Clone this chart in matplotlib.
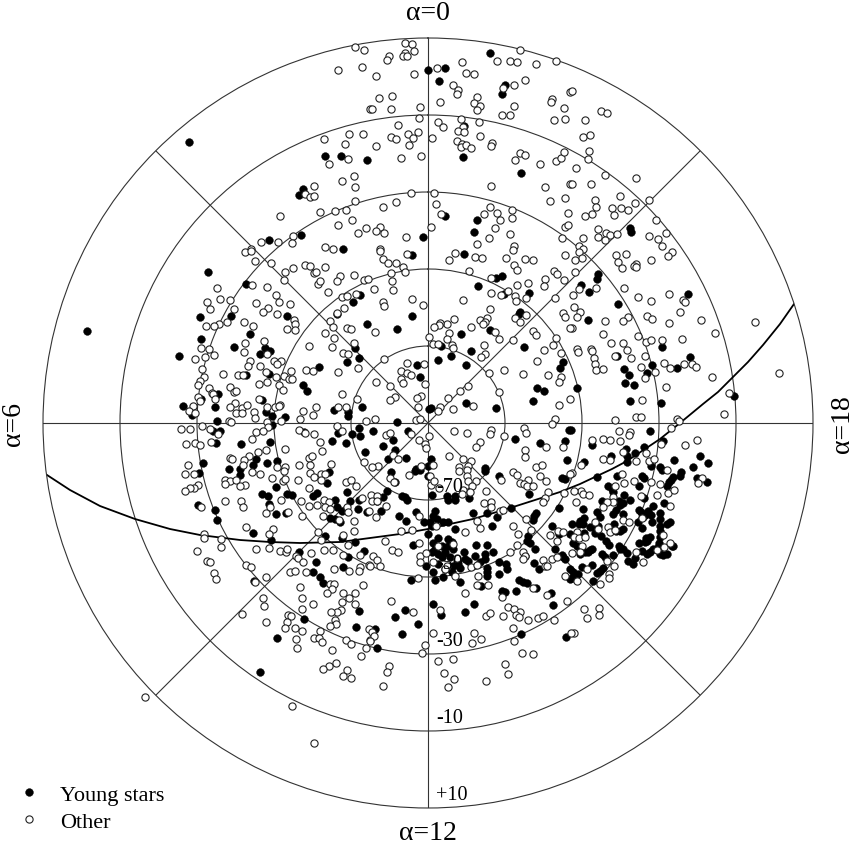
import numpy as np
import matplotlib
matplotlib.use("Agg")
import matplotlib.pyplot as plt
from matplotlib.lines import Line2D
from matplotlib.transforms import ScaledTranslation

plt.rcParams['font.family'] = ['Liberation Serif', 'DejaVu Serif']

# Star positions, as (right, up) offsets from the pole.
# 3.85 map units correspond to one degree of polar distance.
UNITS_PER_DEG = 3.85

young_stars = [
(-239,281),(-103,267),(-87,267),(-61,263),(-125,234),(-129,228),(-159,183),(-127,188),(-85,174),
(0,353),(17,355),(11,342),(62,370),(77,338),(74,329),(36,297),(35,266),(93,250),(17,207),(49,203),(46,191),(-5,186),
(202,195),(203,191),(170,149),(169,144),(153,138),(161,131),(190,119),(260,129),(160,103),(234,76),
(-220,151),(-182,139),(-228,106),(-197,107),(-141,107),(-178,89),(-227,84),(-194,76),(-249,67),(-163,75),(-158,72),(-168,69),
(-75,121),(-68,128),(-61,99),(-91,109),(-73,75),(-69,65),(-81,61),(-109,56),(-159,49),(-182,48),(-125,38),(-121,32),(-210,29),
(-166,23),(-227,24),(-245,17),(-213,16),(-236,8),(-162,11),(-156,7),(-143,6),(-211,2),(-94,13),(-80,11),(-80,7),(-66,16),
(-156,-2),(-69,-5),(-208,-8),(-215,-8),(-212,-20),(-124,-9),(-90,-10),(-76,-11),(-68,-13),(-96,-18),(-82,-20),(-63,-29),
(-158,-19),(-187,-21),(-172,-36),(-175,-42),(-161,-40),(-151,-38),(-225,-40),(-199,-46),(-188,-46),
(-16,168),(36,169),(74,147),(68,145),(50,137),(101,130),(76,129),(92,111),(91,109),(-16,107),(-31,94),(62,93),(33,89),(96,76),
(43,72),(13,77),(10,63),(23,67),(38,58),(-11,58),(-8,46),(135,61),(132,55),(109,35),(116,32),(105,22),(38,20),(68,15),(1,14),(3,15),
(-31,1),(-55,-8),(-20,-8),(-35,-17),(-45,-23),(-33,-27),(-40,-36),(-22,-35),(3,-36),(87,-16),(112,-20),(137,-18),(139,-37),(141,-7),
(57,-45),(0,-43),(-12,-46),
(262,66),(189,67),(224,58),(249,55),(196,54),(201,48),(219,50),(197,40),(206,38),(149,35),(306,27),(202,22),(233,20),(143,-7),(222,-8),
(235,-18),(164,-22),(216,-24),(198,-26),(207,-30),(199,-33),(183,-33),(199,-39),(156,-39),(272,-33),(246,-37),(280,-40),(265,-44),
(223,-43),(232,-44),(234,-47),(253,-49),(252,-53),(245,-54),(243,-57),(241,-59),(239,-63),(269,-55),(279,-59),(169,-54),(189,-53),
(214,-53),(216,-55),(211,-63),(180,-63),(184,-66),(185,-69),
(196,-72),(191,-78),(202,-77),(195,-80),(192,-82),(216,-75),(236,-80),(174,-78),(169,-89),(155,-86),(188,-87),(185,-91),(211,-87),
(220,-88),(223,-92),(232,-90),(232,-96),(242,-99),(195,-91),(215,-94),(225,-83),(156,-95),(152,-98),(172,-94),(144,-101),(151,-101),
(155,-101),(224,-99),(213,-89),(217,-92),(210,-99),(214,-105),(232,-103),(239,-101),(232,-108),(162,-104),(165,-104),(170,-103),
(186,-101),(195,-106),(192,-108),(188,-108),(167,-110),(173,-113),(178,-118),(181,-122),(156,-110),(142,-111),(211,-120),(218,-115),
(222,-114),(219,-118),(217,-119),(232,-114),(231,-120),(230,-124),(225,-126),(232,-131),(239,-131),(235,-132),(245,-123),(244,-123),
(191,-123),(192,-126),(199,-130),(200,-138),(207,-135),(205,-141),(219,-131),(214,-128),(222,-129),(195,-126),(185,-132),(174,-131),
(177,-134),(164,-126),(162,-127),(160,-129),(157,-129),(145,-120),(149,-123),(152,-131),(164,-142),(154,-144),(175,-145),(172,-148),
(169,-150),(165,-158),(142,-146),(145,-149),(150,-151),(144,-155),
(-229,-50),(-188,-52),(-152,-64),(-166,-71),(-160,-73),(-141,-71),(-136,-72),(-101,-60),(-99,-49),(-81,-69),(-115,-73),(-111,-70),
(-93,-77),(-78,-78),(-69,-77),(-230,-82),(-159,-81),(-213,-87),(-211,-97),(-152,-91),(-142,-90),(-91,-84),(-86,-88),(-70,-86),(-61,-89),
(-98,-95),(-93,-96),(-88,-99),(-175,-110),(-157,-117),(-129,-129),(-103,-113),(-86,-115),(-73,-119),(-64,-128),(-80,-134),(-112,-139),
(-85,-144),(-115,-149),(-108,-154),(-105,-160),(-69,-188),(-124,-196),(-72,-204),(-151,-215),(-168,-249),(-174,-158),
(-37,-49),(-33,-59),(-41,-68),(-45,-74),(-51,-78),(-47,-88),(-26,-73),(-23,-74),(-21,-77),(4,-72),(19,-73),(20,-77),(27,-73),(27,-77),
(41,-75),(57,-48),(-13,-48),(-8,-47),(0,-53),(-29,-93),(-12,-89),(7,-88),(5,-93),(-22,-98),(-4,-99),(2,-99),(9,-96),(4,-103),(15,-99),
(20,-99),(27,-106),(0,-111),(45,-90),(59,-90),(69,-94),(64,-103),(83,-85),(106,-93),(108,-90),(105,-97),(101,-71),(71,-53),(131,-85),
(137,-56),(134,-55),(-15,-122),(5,-120),(10,-115),(20,-116),(24,-119),(7,-126),(14,-123),(20,-123),(25,-126),(4,-129),(10,-131),
(17,-129),(14,-134),(22,-134),(36,-129),(48,-122),(59,-122),(65,-129),(57,-131),(47,-133),(37,-136),(40,-138),(30,-141),(32,-145),
(25,-143),(57,-136),(59,-145),(59,-149),(59,-153),(52,-139),(24,-149),(17,-146),(10,-141),(-2,-143),(5,-149),(15,-154),(7,-157),
(-17,-157),(32,-159),(71,-139),(78,-141),(79,-146),(71,-151),(53,-163),(91,-157),(95,-159),(99,-160),(88,-168),(74,-168),(77,-169),
(108,-165),(123,-170),(106,-140),(111,-146),(125,-182),(46,-181),(37,-189),(5,-181),(13,-192),(-23,-187),(-33,-194),(-10,-201),
(-26,-211),(-53,-206),(-51,-225),(93,-211),(138,-214),(100,-113),(99,-118),(102,-120),(107,-126),(97,-133),(142,-156),(124,-103),
(127,-126),(134,-132),(135,-134),(137,-136),(131,-111),(-341,92),
]

other_stars = [
(-73,376),(-64,373),(-90,353),(-66,356),(-58,314),(-104,284),(-79,289),(-65,289),(-83,279),(-99,259),(-80,264),(-74,247),(-86,242),
(-73,236),(-114,237),(-123,229),(-118,226),(-114,227),(-73,222),(-108,211),(-93,212),(-82,213),(-148,207),(-76,203),(-90,198),(-62,195),
(-70,190),(-135,187),(-167,181),(-150,181),(-136,180),(-103,176),(-177,174),(-95,174),
(-23,380),(-16,379),(-14,372),(-23,370),(-25,367),(-21,367),(-39,367),(-41,363),(-52,347),(-14,349),(9,355),(34,361),(38,350),(46,349),
(92,373),(69,362),(82,362),(89,361),(108,359),(128,362),(97,343),(86,338),(75,335),(25,338),(30,333),(29,329),(-49,325),(-36,327),(12,321),
(49,326),(46,320),(52,317),(49,313),(-8,316),(-37,314),(-56,314),(86,317),(124,324),(123,321),(142,331),(136,315),(137,304),(126,303),
(82,308),(74,308),(-9,305),(10,301),(15,296),(33,304),(51,301),(-30,298),(35,296),(30,292),(36,291),(-20,289),(-10,291),(-15,285),(-37,286),
(-32,284),(4,285),(52,287),(-19,278),(-52,277),(29,282),(34,279),(33,276),(38,278),(43,275),(64,280),(63,277),(-27,265),(-7,267),(92,270),
(97,268),(87,263),(112,259),(128,262),(133,265),(136,271),(63,237),(117,236),(142,239),(-17,230),(6,230),(-32,221),(-45,216),(8,219),
(122,222),(137,225),(62,216),(13,209),(56,209),(69,210),(84,213),(84,205),(72,203),(140,210),(67,195),(-48,196),(-52,192),(-44,190),
(3,196),(-22,186),(137,196),(140,198),(82,189),(61,185),(134,185),(49,179),(86,177),(-48,174),
(155,286),(162,288),(161,272),(160,264),(148,255),(177,248),(208,245),(144,239),(163,239),(192,227),(167,223),(207,220),(221,223),(168,216),
(184,215),(193,215),(200,213),(186,208),(164,209),(157,207),(228,203),(170,194),(178,190),(170,186),(182,188),(177,183),(189,189),(155,185),
(221,187),(238,190),(230,184),(234,177),(151,177),(155,174),(151,171),(244,171),(240,167),(188,168),(198,169),(223,163),(154,165),(147,163),
(190,161),(208,159),(206,157),(208,156),(194,155),(147,151),(151,134),(168,135),(145,128),(196,135),(210,126),(223,122),(241,129),(255,123),
(257,121),(146,116),(152,111),(149,106),(252,111),(219,107),(224,104),(200,106),(195,102),(177,102),(241,100),(273,103),(327,101),(144,95),
(287,90),(175,89),(210,87),(218,81),(223,83),(234,83),(254,84),(183,80),(195,80),(163,74),(149,74),
(144,332),(173,312),(179,310),(157,303),
(-183,171),(-177,172),(-173,162),(-157,160),(-135,155),(-143,151),(-123,158),(-118,157),(-103,156),(-114,150),(-112,151),(-144,143),(-176,138),
(-161,136),(-211,135),(-110,139),(-108,142),(-88,147),(-74,148),(-91,142),(-64,143),(-60,144),(-100,131),(-86,126),(-81,127),(-72,129),
(-152,128),(-149,121),(-138,119),(-172,120),(-208,124),(-198,123),(-221,121),(-218,114),(-194,114),(-160,115),(-165,111),(-151,109),(-84,115),
(-91,110),(-134,103),(-133,99),(-141,94),(-133,93),(-201,101),(-209,99),(-214,97),(-222,97),(-184,101),(-175,97),(-98,102),(-95,96),(-103,90),
(-94,85),(-81,95),(-77,94),(-164,82),(-183,80),(-184,71),(-119,77),(-96,76),(-74,80),(-227,75),(-219,74),(-214,68),(-223,66),(-233,64),
(-161,69),(-85,70),(-80,69),(-178,62),(-180,57),(-168,57),(-154,62),(-147,62),(-151,59),(-226,54),(-205,49),(-190,48),(-185,48),(-162,51),
(-137,52),(-122,53),(-115,52),(-90,51),(-70,55),(-224,46),(-152,46),(-144,47),(-139,44),(-136,44),(-228,42),(-230,38),(-169,39),(-161,41),
(-149,38),(-219,35),(-198,36),(-194,31),(-192,32),(-216,30),(-215,29),(-145,33),(-86,29),(-71,24),(-213,24),(-230,26),(-228,22),(-169,24),
(-193,20),(-198,16),(-186,15),(-181,18),(-161,16),(-153,16),(-148,18),(-149,17),(-112,16),(-90,16),(-82,16),(-235,17),(-239,12),(-233,10),
(-174,11),(-192,10),(-186,10),(-125,12),(-115,8),(-173,5),(-128,4),(-199,2),(-197,1),(-161,1),(-147,2),(-226,-3),(-160,-4),(-91,-3),(-62,2),
(-247,-6),(-238,-6),(-218,-6),(-210,-11),(-172,-9),(-165,-8),(-129,-7),(-123,-10),(-114,-11),(-86,-8),(-176,-16),(-217,-19),(-242,-21),
(-233,-20),(-228,-22),(-108,-19),(-143,-26),(-162,-27),(-170,-29),(-106,-28),(-179,-33),(-184,-37),(-198,-35),(-196,-36),(-119,-35),(-116,-33),
(-240,-42),(-185,-42),(-129,-42),(-118,-42),(-97,-41),(-143,-44),(-151,-44),(-64,-39),
(-21,169),(-45,164),(-40,160),(-32,160),(-25,156),(-23,151),(-37,150),(-36,142),(-54,134),(-35,133),(-48,172),(27,170),(21,163),(47,166),
(54,165),(78,165),(85,173),(97,164),(105,163),(137,168),(86,158),(89,153),(41,152),(126,152),(129,149),(63,145),(117,144),(136,143),(100,140),
(89,138),(116,137),(80,132),(63,130),(73,128),(87,127),(98,125),(88,122),(127,125),(-16,124),(35,123),(-45,121),(-44,117),(-5,118),(62,114),
(135,110),(137,106),(98,108),(59,105),(52,103),(57,101),(87,105),(92,101),(55,99),(26,104),(19,99),(12,100),(11,98),(6,96),(43,96),(-53,91),
(21,90),(67,91),(105,92),(108,88),(142,95),(1,86),(19,84),(71,84),(85,83),(128,85),(125,78),(5,79),(10,79),(24,78),(25,75),(56,78),(116,73),
(133,70),(57,69),(53,66),(-44,64),(109,62),(-21,60),(-4,59),(76,53),(-27,52),(-21,50),(-17,48),(61,50),(95,49),(120,48),(133,46),(-27,44),
(-25,40),(-52,41),(-3,39),(-38,37),(40,37),(131,41),(32,32),(71,31),(-7,27),(-11,25),(-33,26),(-38,23),(20,25),(131,18),(-10,16),(45,17),
(12,16),(10,12),(25,14),(-53,4),(-12,3),(-8,4),(127,4),(124,-1),(96,-5),(98,-10),(63,-7),(62,-11),(26,-8),(39,-10),(76,-13),(-42,-12),(-38,-10),
(-17,-11),(1,-13),(-9,-17),(-3,-21),(52,-19),(48,-24),(-2,-25),(118,-24),(135,-24),(97,-27),(97,-34),(21,-33),(-35,-32),(-30,-36),(35,-36),
(43,-38),(31,-44),(40,-43),(108,-44),(114,-42),(-50,-43),(-7,-43),(5,-42),(-56,-44),
(150,71),(164,72),(166,65),(167,59),(168,53),(175,54),(187,67),(203,65),(199,73),(217,67),(213,56),(236,60),(242,55),(256,59),(264,59),(268,56),
(227,51),(217,45),(284,46),(238,36),(301,30),(214,23),(142,24),(296,9),(208,6),(213,6),(187,3),(249,4),(251,2),(191,-8),(243,-5),(202,-9),
(201,-12),(164,-17),(175,-16),(182,-17),(192,-18),(233,-21),(257,-22),(269,-17),(195,-29),(218,-30),(175,-36),(182,-37),(208,-38),(221,-38),
(226,-36),(153,-42),(239,-47),(144,-50),(274,-55),(270,-60),(351,50),
(194,-51),(206,-58),(223,-59),(232,-61),(240,-70),(246,-67),(196,-60),(187,-63),(185,-74),(185,-79),(179,-79),(175,-84),(213,-73),(229,-72),
(242,-83),(148,-79),(153,-68),(146,-68),(155,-71),(161,-72),(142,-51),(167,-99),(195,-97),(201,-99),(214,-95),(170,-106),(180,-104),(182,-109),
(187,-107),(235,-112),(149,-109),(146,-114),(151,-115),(157,-114),(154,-123),(152,-129),(144,-130),(179,-138),(208,-129),(215,-139),(229,-127),
(236,-124),(242,-120),(186,-143),(181,-151),(181,-155),(159,-146),(149,-158),(172,-161),(156,-186),(171,-185),(171,-192),(159,-195),(146,-210),(143,-210),
(-243,-51),(-234,-51),(-230,-62),(-234,-65),(-238,-65),(-243,-68),(-203,-57),(-198,-58),(-203,-61),(-192,-57),(-183,-62),(-188,-63),(-176,-49),
(-168,-51),(-156,-55),(-145,-58),(-143,-56),(-130,-57),(-144,-48),(-119,-65),(-118,-50),(-114,-54),(-107,-51),(-103,-51),(-107,-57),(-82,-59),
(-77,-57),(-72,-63),(-203,-78),(-187,-78),(-185,-84),(-227,-84),(-147,-77),(-158,-84),(-162,-90),(-140,-89),(-127,-78),(-119,-83),(-126,-93),
(-111,-82),(-104,-77),(-99,-79),(-103,-84),(-98,-86),(-66,-75),(-81,-84),(-80,-89),(-105,-93),(-89,-97),(-74,-98),(-59,-88),(-182,-104),
(-155,-106),(-159,-111),(-74,-108),(-110,-109),(-224,-111),(-224,-115),(-207,-116),(-207,-124),(-107,-117),(-85,-112),(-80,-122),(-231,-128),
(-172,-126),(-159,-125),(-148,-128),(-142,-129),(-141,-126),(-117,-130),(-104,-127),(-95,-127),(-85,-132),(-68,-132),(-59,-142),(-132,-133),
(-130,-135),(-125,-139),(-221,-138),(-218,-139),(-182,-142),(-177,-144),(-214,-150),(-212,-156),(-162,-154),(-173,-159),(-138,-149),(-133,-148),
(-122,-149),(-94,-146),(-79,-148),(-68,-144),(-69,-148),(-128,-164),(-65,-162),(-98,-161),(-94,-161),(-96,-166),(-101,-170),(-85,-170),(-73,-170),
(-79,-175),(-165,-175),(-126,-175),(-86,-179),(-164,-183),(-73,-181),(-115,-181),(-126,-186),(-87,-187),(-91,-189),(-97,-189),(-186,-191),
(-140,-192),(-137,-193),(-141,-199),(-143,-205),(-162,-199),(-93,-197),(-92,-201),(-98,-203),(-133,-205),(-126,-208),(-108,-208),(-132,-216),
(-114,-215),(-109,-215),(-106,-219),(-82,-217),(-77,-221),(-59,-206),(-131,-225),(-96,-227),(-62,-225),(-58,-217),(-67,-233),(-92,-240),(-99,-243),
(-105,-246),(-81,-247),(-85,-253),(-77,-255),
(-19,-52),(2,-53),(-38,-55),(-34,-59),(-57,-72),(-51,-73),(-56,-78),(-51,-78),(-42,-83),(-52,-94),(3,-62),(11,-65),(6,-58),(31,-48),(39,-47),
(39,-53),(40,-58),(48,-58),(44,-63),(35,-67),(34,-71),(42,-69),(58,-68),(73,-57),(85,-49),(89,-52),(112,-53),(100,-57),(92,-60),(96,-61),(99,-63),
(105,-63),(118,-58),(120,-69),(117,-75),(115,-79),(136,-70),(56,-80),(63,-79),(63,-84),(72,-88),(75,-87),(-9,-93),(98,-96),(49,-98),(52,-105),
(37,-109),(85,-103),(90,-111),(103,-107),(8,-103),(-27,-108),(-16,-107),(-43,-118),(-9,-120),(-36,-127),(-30,-129),(-55,-133),(-51,-137),(-58,-143),
(-48,-143),(-8,-133),(-2,-130),(-8,-139),(10,-123),(25,-121),(5,-139),(19,-143),(17,-146),(29,-135),(43,-144),(49,-142),(50,-153),(27,-153),(89,-122),
(95,-129),(97,-133),(95,-136),(82,-129),(115,-137),(117,-143),(124,-136),(119,-143),(129,-134),(122,-112),(130,-108),(135,-109),(129,-118),(137,-153),
(-10,-155),(49,-162),(60,-162),(37,-170),(74,-174),(105,-165),(119,-172),(-37,-178),(-15,-189),(12,-187),(58,-193),(62,-190),(75,-193),(80,-184),
(86,-186),(92,-189),(88,-192),(91,-194),(100,-197),(110,-195),(115,-193),(126,-197),(139,-178),(85,-205),(86,-218),(5,-210),(46,-210),(53,-216),
(44,-220),(-3,-222),(-6,-230),(-56,-209),(-54,-213),(-58,-218),(94,-230),(105,-231),(10,-238),(25,-236),(77,-241),(80,-251),(16,-250),(26,-256),
(58,-258),(-39,-243),(-41,-249),(-45,-263),(20,-264),(-136,-283),(-114,-320),(-283,-274),
]

plane_curve = [
(-381,-52),(-358,-67),(-328,-83),(-293,-96),(-258,-106),(-228,-112),(-188,-117),(-158,-119),(-128,-120),(-88,-119),(-58,-115),(-28,-111),
(0,-106),(22,-101),(45,-96),(62,-91),(82,-85),(107,-77),(132,-69),(152,-61),(169,-53),(184,-46),(199,-38),(217,-26),(232,-16),(252,0),
(275,19),(290,31),(305,46),(320,61),(335,78),(352,99),(366,119),
]

dec_circles = [-70, -50, -30, -10]
dec_labels = ['-70', '-50', '-30', '-10', '+10']
hour_spokes = [0, 3, 6, 9, 12, 15, 18, 21]
hour_labels = {0: 'α=0', 6: 'α=6', 12: 'α=12', 18: 'α=18'}
legend_labels = ['Young stars', 'Other']


def to_sky(points):
    """Convert map offsets to right ascension (hours) and declination (deg)."""
    p = np.asarray(points, dtype=float)
    alpha = np.degrees(np.arctan2(-p[:, 0], p[:, 1])) % 360 / 15
    dec = -90 + np.hypot(p[:, 0], p[:, 1]) / UNITS_PER_DEG
    return alpha, dec


W, H = 856, 845
fig = plt.figure(figsize=(W / 100, H / 100), dpi=100, facecolor='white')
ax = fig.add_axes([43 / W, 36 / H, 770 / W, 770 / H], projection='polar')
ax.set_theta_zero_location('N')
ax.set_theta_direction(1)
ax.set_ylim(0, 100)
ax.set_thetagrids([h * 15 for h in hour_spokes], labels=[''] * len(hour_spokes))
ax.set_rgrids([d + 90 for d in dec_circles], labels=[''] * len(dec_circles))
ax.grid(True, color='#333333', lw=0.8, ls='-')
ax.tick_params(length=0)
ax.spines['polar'].set_linewidth(0.8)
ax.spines['polar'].set_color('#333333')

a, d = to_sky(plane_curve)
ax.plot(np.radians(a * 15), d + 90, color='black', lw=1.3, zorder=2)

a, d = to_sky(young_stars)
ax.plot(np.radians(a * 15), d + 90, ls='none', marker='o', ms=5.6, mfc='black', mec='black', mew=0.3,
        zorder=3, clip_on=False)
a, d = to_sky(other_stars)
ax.plot(np.radians(a * 15), d + 90, ls='none', marker='o', ms=5.2, mfc='white', mec='#222222', mew=0.8,
        zorder=4, clip_on=False)

label_shift = ax.transData + ScaledTranslation(8 / 100, 0, fig.dpi_scale_trans)
for lab, dec in zip(dec_labels, [-70, -50, -30, -10, 10]):
    ax.text(np.radians(180), dec + 90 - 3.6, lab, fontsize=14.5, ha='left', va='center', zorder=5,
            transform=label_shift)

fs = 20
fig.text(428 / W, 1 - 14 / H, hour_labels[0], fontsize=fs, ha='center', va='center')
fig.text(428 / W, 1 - 834 / H, hour_labels[12], fontsize=fs, ha='center', va='center')
fig.text(14 / W, 1 - 424 / H, hour_labels[6], fontsize=fs, ha='center', va='center', rotation=90)
fig.text(843 / W, 1 - 424 / H, hour_labels[18], fontsize=fs, ha='center', va='center', rotation=90)

handles = [
    Line2D([], [], ls='none', marker='o', ms=5.6, mfc='black', mec='black', mew=0.3),
    Line2D([], [], ls='none', marker='o', ms=5.2, mfc='white', mec='#222222', mew=0.8),
]
fig.legend(handles, legend_labels, loc='lower left', bbox_to_anchor=(12 / W, 1 - 833 / H), frameon=False,
           fontsize=16, handletextpad=0.68, labelspacing=0.3, handlelength=1.5, borderpad=0, borderaxespad=0)

fig.savefig('out.png', dpi=100, facecolor='white')
